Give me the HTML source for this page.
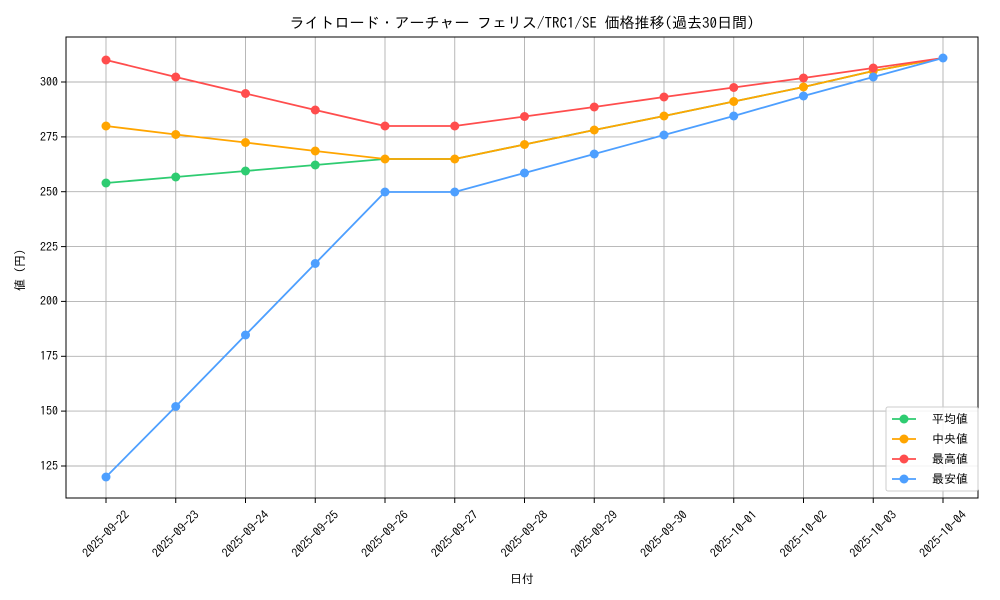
<!DOCTYPE html>
<html><head><meta charset="utf-8"><style>
html,body{margin:0;padding:0;background:#fff;}
svg{display:block;font-family:"IPAGothic","Noto Sans CJK JP",monospace;}
</style></head><body>
<svg width="1000" height="600" viewBox="0 0 1000 600" xmlns="http://www.w3.org/2000/svg">
<rect width="1000" height="600" fill="#fff"/>
<g stroke="#b0b0b0" stroke-width="0.9">
<line x1="106" y1="37" x2="106" y2="498"/><line x1="175.75" y1="37" x2="175.75" y2="498"/><line x1="245.5" y1="37" x2="245.5" y2="498"/><line x1="315.25" y1="37" x2="315.25" y2="498"/><line x1="385" y1="37" x2="385" y2="498"/><line x1="454.75" y1="37" x2="454.75" y2="498"/><line x1="524.5" y1="37" x2="524.5" y2="498"/><line x1="594.25" y1="37" x2="594.25" y2="498"/><line x1="664" y1="37" x2="664" y2="498"/><line x1="733.75" y1="37" x2="733.75" y2="498"/><line x1="803.5" y1="37" x2="803.5" y2="498"/><line x1="873.25" y1="37" x2="873.25" y2="498"/><line x1="943" y1="37" x2="943" y2="498"/>
<line x1="66" y1="466" x2="978" y2="466"/><line x1="66" y1="411.1" x2="978" y2="411.1"/><line x1="66" y1="356.3" x2="978" y2="356.3"/><line x1="66" y1="301.4" x2="978" y2="301.4"/><line x1="66" y1="246.6" x2="978" y2="246.6"/><line x1="66" y1="191.7" x2="978" y2="191.7"/><line x1="66" y1="136.9" x2="978" y2="136.9"/><line x1="66" y1="82" x2="978" y2="82"/>
</g>
<rect x="66" y="37" width="912" height="461" fill="none" stroke="#000" stroke-width="1"/>
<g stroke="#000"><line x1="61" y1="466" x2="66" y2="466"/><line x1="61" y1="411.1" x2="66" y2="411.1"/><line x1="61" y1="356.3" x2="66" y2="356.3"/><line x1="61" y1="301.4" x2="66" y2="301.4"/><line x1="61" y1="246.6" x2="66" y2="246.6"/><line x1="61" y1="191.7" x2="66" y2="191.7"/><line x1="61" y1="136.9" x2="66" y2="136.9"/><line x1="61" y1="82" x2="66" y2="82"/></g>
<g font-size="12" text-anchor="end" fill="#000">
<text x="58" y="470">125</text><text x="58" y="415">150</text><text x="58" y="360">175</text><text x="58" y="305">200</text><text x="58" y="251">225</text><text x="58" y="196">250</text><text x="58" y="141">275</text><text x="58" y="86">300</text>
</g>
<g font-size="12" text-anchor="middle" fill="#000">
<g transform="translate(106,534) rotate(-45)"><text dy="4">2025-09-22</text></g>
<g transform="translate(175.75,534) rotate(-45)"><text dy="4">2025-09-23</text></g>
<g transform="translate(245.5,534) rotate(-45)"><text dy="4">2025-09-24</text></g>
<g transform="translate(315.25,534) rotate(-45)"><text dy="4">2025-09-25</text></g>
<g transform="translate(385,534) rotate(-45)"><text dy="4">2025-09-26</text></g>
<g transform="translate(454.75,534) rotate(-45)"><text dy="4">2025-09-27</text></g>
<g transform="translate(524.5,534) rotate(-45)"><text dy="4">2025-09-28</text></g>
<g transform="translate(594.25,534) rotate(-45)"><text dy="4">2025-09-29</text></g>
<g transform="translate(664,534) rotate(-45)"><text dy="4">2025-09-30</text></g>
<g transform="translate(733.75,534) rotate(-45)"><text dy="4">2025-10-01</text></g>
<g transform="translate(803.5,534) rotate(-45)"><text dy="4">2025-10-02</text></g>
<g transform="translate(873.25,534) rotate(-45)"><text dy="4">2025-10-03</text></g>
<g transform="translate(943,534) rotate(-45)"><text dy="4">2025-10-04</text></g>
</g>
<g stroke="#000"><line x1="106" y1="498" x2="106" y2="503"/><line x1="175.75" y1="498" x2="175.75" y2="503"/><line x1="245.5" y1="498" x2="245.5" y2="503"/><line x1="315.25" y1="498" x2="315.25" y2="503"/><line x1="385" y1="498" x2="385" y2="503"/><line x1="454.75" y1="498" x2="454.75" y2="503"/><line x1="524.5" y1="498" x2="524.5" y2="503"/><line x1="594.25" y1="498" x2="594.25" y2="503"/><line x1="664" y1="498" x2="664" y2="503"/><line x1="733.75" y1="498" x2="733.75" y2="503"/><line x1="803.5" y1="498" x2="803.5" y2="503"/><line x1="873.25" y1="498" x2="873.25" y2="503"/><line x1="943" y1="498" x2="943" y2="503"/></g>
<text x="522" y="583" font-size="12" text-anchor="middle">日付</text>
<g transform="translate(24,270) rotate(-90)"><text font-size="12" text-anchor="middle">値 (円)</text></g>
<text x="522" y="28" font-size="15" text-anchor="middle">ライトロード・アーチャー フェリス/TRC1/SE 価格推移(過去30日間)</text>
<g fill="none" stroke-width="1.8">
<polyline stroke="#2ecc71" points="106,183 175.75,177 245.5,171 315.25,165 385,159 454.75,159 524.5,144.5 594.25,130 664,116 733.75,101.5 803.5,87 873.25,71 943,58"/>
<polyline stroke="#ffa500" points="106,126 175.75,134.5 245.5,142.5 315.25,151 385,159 454.75,159 524.5,144.5 594.25,130 664,116 733.75,101.5 803.5,87 873.25,71 943,58"/>
<polyline stroke="#ff4d4d" points="106,60 175.75,77 245.5,93.5 315.25,110 385,126 454.75,126 524.5,116.5 594.25,107 664,97 733.75,87.5 803.5,78 873.25,68 943,58"/>
<polyline stroke="#4d9fff" points="106,477 175.75,406.5 245.5,335 315.25,263.5 385,192 454.75,192 524.5,173 594.25,154 664,135 733.75,116 803.5,96 873.25,77 943,58"/>
</g>
<g fill="#2ecc71"><circle cx="106" cy="183" r="4.5"/><circle cx="175.75" cy="177" r="4.5"/><circle cx="245.5" cy="171" r="4.5"/><circle cx="315.25" cy="165" r="4.5"/></g>
<g fill="#ffa500"><circle cx="106" cy="126" r="4.5"/><circle cx="175.75" cy="134.5" r="4.5"/><circle cx="245.5" cy="142.5" r="4.5"/><circle cx="315.25" cy="151" r="4.5"/><circle cx="385" cy="159" r="4.5"/><circle cx="454.75" cy="159" r="4.5"/><circle cx="524.5" cy="144.5" r="4.5"/><circle cx="594.25" cy="130" r="4.5"/><circle cx="664" cy="116" r="4.5"/><circle cx="733.75" cy="101.5" r="4.5"/><circle cx="803.5" cy="87" r="4.5"/><circle cx="873.25" cy="71" r="4.5"/></g>
<g fill="#ff4d4d"><circle cx="106" cy="60" r="4.5"/><circle cx="175.75" cy="77" r="4.5"/><circle cx="245.5" cy="93.5" r="4.5"/><circle cx="315.25" cy="110" r="4.5"/><circle cx="385" cy="126" r="4.5"/><circle cx="454.75" cy="126" r="4.5"/><circle cx="524.5" cy="116.5" r="4.5"/><circle cx="594.25" cy="107" r="4.5"/><circle cx="664" cy="97" r="4.5"/><circle cx="733.75" cy="87.5" r="4.5"/><circle cx="803.5" cy="78" r="4.5"/><circle cx="873.25" cy="68" r="4.5"/></g>
<g fill="#4d9fff"><circle cx="106" cy="477" r="4.5"/><circle cx="175.75" cy="406.5" r="4.5"/><circle cx="245.5" cy="335" r="4.5"/><circle cx="315.25" cy="263.5" r="4.5"/><circle cx="385" cy="192" r="4.5"/><circle cx="454.75" cy="192" r="4.5"/><circle cx="524.5" cy="173" r="4.5"/><circle cx="594.25" cy="154" r="4.5"/><circle cx="664" cy="135" r="4.5"/><circle cx="733.75" cy="116" r="4.5"/><circle cx="803.5" cy="96" r="4.5"/><circle cx="873.25" cy="77" r="4.5"/><circle cx="943" cy="58" r="4.5"/></g>
<rect x="886" y="407" width="92" height="84" rx="2" fill="#fff" fill-opacity="0.85" stroke="#ccc"/>
<g stroke-width="1.8">
<line x1="892" y1="419" x2="916" y2="419" stroke="#2ecc71"/><circle cx="904" cy="419" r="4.5" fill="#2ecc71"/>
<line x1="892" y1="439" x2="916" y2="439" stroke="#ffa500"/><circle cx="904" cy="439" r="4.5" fill="#ffa500"/>
<line x1="892" y1="459" x2="916" y2="459" stroke="#ff4d4d"/><circle cx="904" cy="459" r="4.5" fill="#ff4d4d"/>
<line x1="892" y1="479" x2="916" y2="479" stroke="#4d9fff"/><circle cx="904" cy="479" r="4.5" fill="#4d9fff"/>
</g>
<g font-size="12"><text x="932" y="423">平均値</text><text x="932" y="443">中央値</text><text x="932" y="463">最高値</text><text x="932" y="483">最安値</text></g>
</svg>
</body></html>
